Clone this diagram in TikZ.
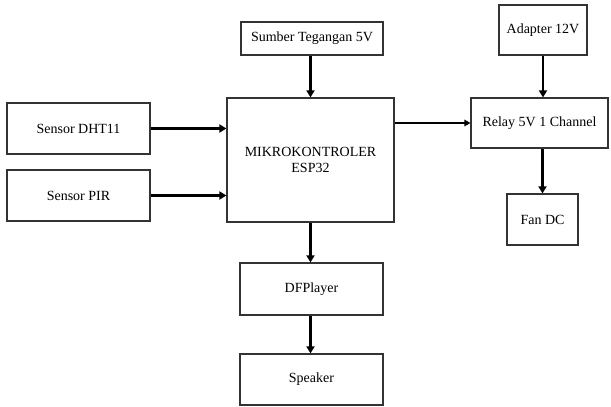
\documentclass[tikz,border=0pt]{standalone}
\usepackage{fontspec}
\setmainfont{Liberation Serif}
\usetikzlibrary{arrows.meta}
\begin{document}
\begin{tikzpicture}[x=1pt,y=-1pt,
  blk/.style={draw=black!80,line width=1.2pt,inner sep=0pt,font=\fontsize{14}{16}\selectfont,align=center},
  conn/.style={line width=2.4pt,-{Triangle[length=7pt,width=8pt]}},
  thinconn/.style={line width=1.8pt,-{Triangle[length=6pt,width=6.5pt]}}]
\useasboundingbox (0,0) rectangle (611,407);
\newcommand\bx[6]{\node[blk,minimum width=#4-#2,minimum height=#5-#3] (#1) at ({(#2+#4)/2},{(#3+#5)/2}) {#6};}
\bx{dht}{7}{103}{150}{154}{Sensor DHT11}
\bx{pir}{7}{170}{150}{221}{Sensor PIR}
\bx{src}{241}{22}{383}{55}{Sumber Tegangan 5V}
\bx{esp}{227}{98}{394}{222}{MIKROKONTROLER\\ESP32}
\bx{adp}{499}{5}{587}{55}{Adapter 12V}
\bx{rel}{471}{98}{608}{148}{Relay 5V 1 Channel}
\bx{fan}{507}{194}{578}{245}{Fan DC}
\bx{dfp}{240}{263}{383}{315}{DFPlayer}
\bx{spk}{240}{354}{383}{405}{Speaker}
\draw[conn] (dht.east) -- (esp.west |- dht.east);
\draw[conn] (pir.east) -- (esp.west |- pir.east);
\draw[conn] (src.south -| esp.north) -- (esp.north);
\draw[thinconn] (esp.east |- rel.west) -- (rel.west);
\draw[conn] (adp.south) -- (adp.south |- rel.north);
\draw[conn] (fan.north |- rel.south) -- (fan.north);
\draw[conn] (esp.south) -- (esp.south |- dfp.north);
\draw[conn] (dfp.south -| esp.south) -- (esp.south |- spk.north);
\end{tikzpicture}
\end{document}
